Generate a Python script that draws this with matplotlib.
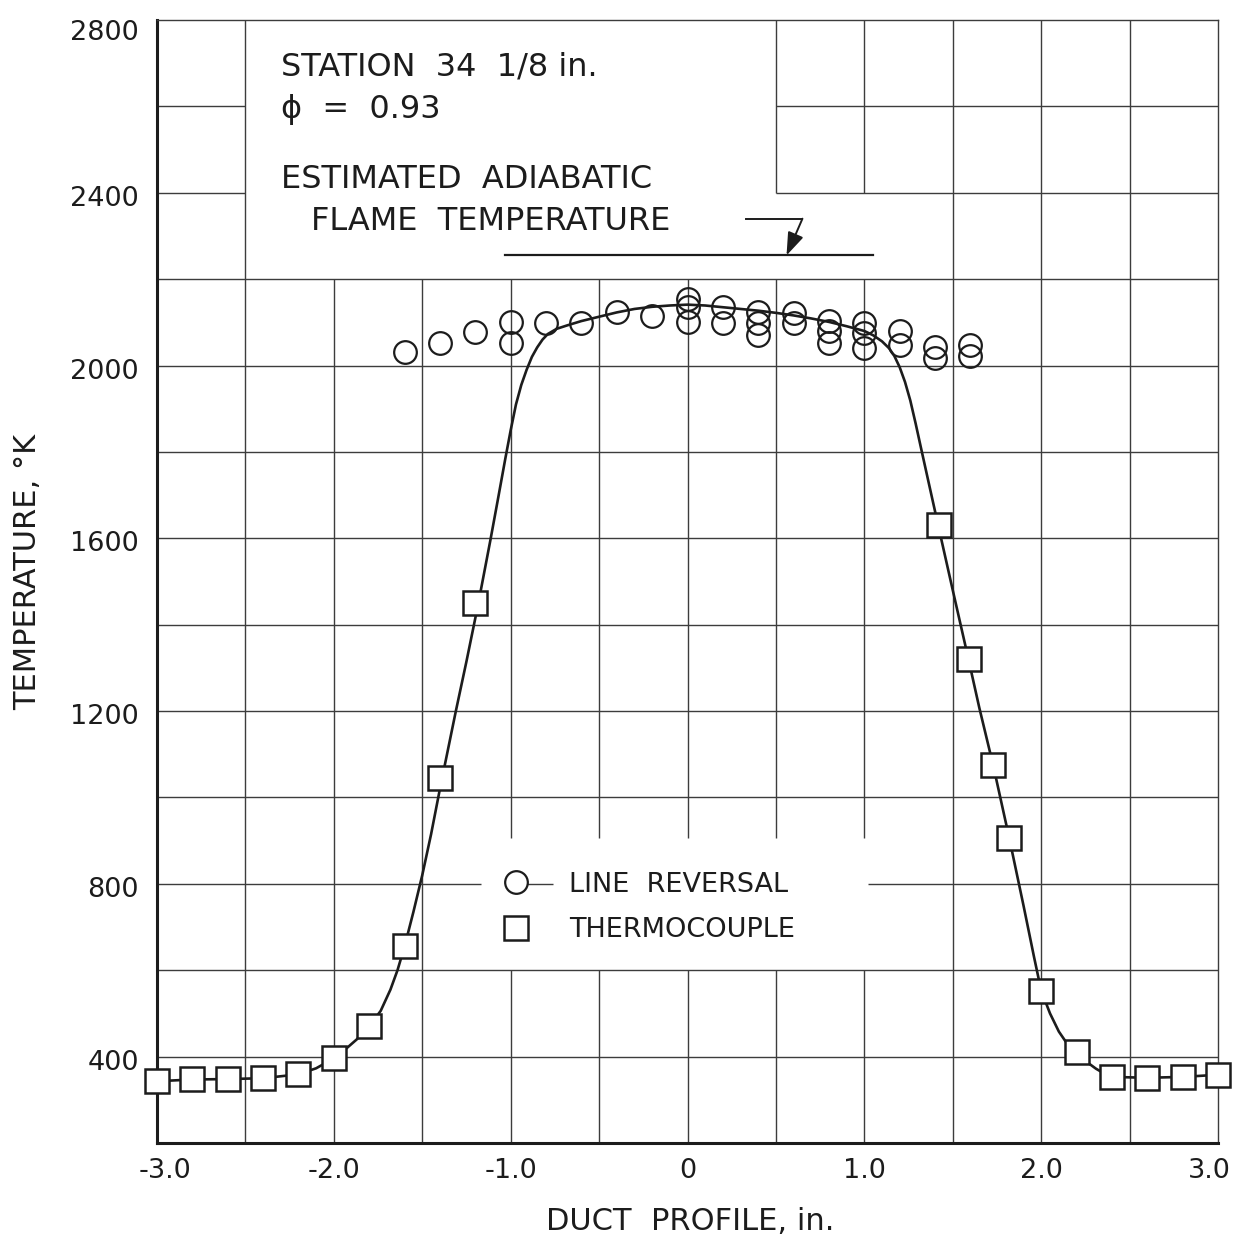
import matplotlib
matplotlib.use("Agg")
import matplotlib.pyplot as plt
from matplotlib.transforms import ScaledTranslation

# ---- data -------------------------------------------------------------
# Line-reversal temperatures (deg K) across the duct
lr_x = [-1.6, -1.4, -1.2, -1.0, -1.0, -0.8, -0.6, -0.4, -0.2,
        0.0, 0.0, 0.0, 0.2, 0.2, 0.4, 0.4, 0.4, 0.6, 0.6,
        0.8, 0.8, 0.8, 1.0, 1.0, 1.0, 1.2, 1.2, 1.4, 1.4, 1.6, 1.6]
lr_t = [2031, 2052, 2078, 2100, 2052, 2098, 2098, 2123, 2115,
        2155, 2135, 2100, 2136, 2098, 2125, 2098, 2071, 2121, 2098,
        2102, 2079, 2052, 2098, 2075, 2040, 2079, 2048, 2044, 2018, 2048, 2021]

# Thermocouple temperatures (deg K)
tc_x = [-3.0, -2.8, -2.6, -2.4, -2.2, -2.0, -1.8, -1.6, -1.4, -1.2,
        1.42, 1.59, 1.73, 1.82, 2.0, 2.2, 2.4, 2.6, 2.8, 3.0]
tc_t = [343, 348, 348, 350, 359, 396, 472, 655, 1045, 1450,
        1631, 1320, 1074, 906, 553, 410, 352, 351, 353, 358]

# Faired profile curve
fair_x = [-3.0, -2.8, -2.6, -2.4, -2.2, -2.1, -2.0, -1.94, -1.87, -1.8,
          -1.735, -1.68, -1.64, -1.6, -1.55, -1.5, -1.45, -1.4, -1.35, -1.31,
          -1.25, -1.21, -1.185, -1.15, -1.115, -1.07, -1.03, -1.0, -0.97, -0.94,
          -0.91, -0.88, -0.85, -0.82, -0.79, -0.74, -0.68, -0.6, -0.5, -0.4,
          -0.3, -0.2, -0.1, 0.0, 0.1, 0.2, 0.3, 0.4, 0.5, 0.6,
          0.7, 0.8, 0.9, 1.0, 1.05, 1.1, 1.14, 1.17, 1.2, 1.23,
          1.26, 1.29, 1.32, 1.36, 1.417, 1.5, 1.59, 1.65, 1.73, 1.82,
          1.9, 1.96, 2.0, 2.05, 2.1, 2.15, 2.2, 2.25, 2.31, 2.36,
          2.4, 2.6, 2.8, 3.0]
fair_t = [343, 347, 348, 350, 359, 373, 396, 415, 440, 470,
          506, 555, 600, 655, 735, 820, 915, 1020, 1120, 1200,
          1315, 1395, 1445, 1520, 1595, 1695, 1785, 1850, 1910, 1955,
          1990, 2020, 2042, 2060, 2073, 2085, 2093, 2103, 2113, 2123,
          2131, 2136, 2139, 2141, 2139, 2135, 2131, 2127, 2122, 2116,
          2109, 2101, 2091, 2080, 2070, 2056, 2040, 2022, 1996, 1962,
          1919, 1866, 1810, 1736, 1631, 1480, 1318, 1208, 1072, 905,
          750, 630, 553, 500, 458, 428, 408, 390, 372, 360,
          353, 351, 353, 358]

# Estimated adiabatic flame temperature
adiabatic_t = 2255
adiabatic_span = [-1.03, 1.05]

x_ticks = [-3.0, -2.0, -1.0, 0.0, 1.0, 2.0, 3.0]
x_labels = ["-3.0", "-2.0", "-1.0", "0", "1.0", "2.0", "3.0"]
y_ticks = [400, 800, 1200, 1600, 2000, 2400, 2800]
y_labels = ["400", "800", "1200", "1600", "2000", "2400", "2800"]

# ---- figure ------------------------------------------------------------
INK = "#1c1c1c"
GRID = "#3c3c3c"
plt.rcParams["font.family"] = "DejaVu Sans"

W, H = 1236, 1239
fig = plt.figure(figsize=(W / 100, H / 100), dpi=100)
ax = fig.add_axes([157 / W, 1 - 1143 / H, (1218 - 157) / W, (1143 - 20) / H])
ax.set_xlim(-3, 3)
ax.set_ylim(200, 2800)

# Grid drawn segment by segment so that the lettered areas stay blank
blank = [(-2.5, 0.5, 2200, 2800), (0.5, 1.5, 2200, 2400),
         (-1.17, 1.02, 600, 800), (-1.17, -0.91, 800, 905), (-0.76, 1.02, 800, 905)]


def inside(px, py):
    return any(x0 <= px <= x1 and y0 <= py <= y1 for x0, x1, y0, y1 in blank)


def visible_runs(lo, hi, cuts, hidden):
    pts = sorted(set([lo, hi] + [c for c in cuts if lo < c < hi]))
    runs = []
    for a, b in zip(pts[:-1], pts[1:]):
        if hidden(0.5 * (a + b)):
            continue
        if runs and abs(runs[-1][1] - a) < 1e-9:
            runs[-1][1] = b
        else:
            runs.append([a, b])
    return runs


eps = 1e-6
for gx in [-2.5, -2.0, -1.5, -1.0, -0.5, 0.0, 0.5, 1.0, 1.5, 2.0, 2.5]:
    cuts = [v for r in blank for v in r[2:]]
    for a, b in visible_runs(200, 2800, cuts,
                             lambda m: inside(gx - eps, m) and inside(gx + eps, m)):
        ax.plot([gx, gx], [a, b], color=GRID, lw=1.0, zorder=1, solid_capstyle="butt")
for gy in range(400, 2800, 200):
    cuts = [v for r in blank for v in r[:2]]
    for a, b in visible_runs(-3, 3, cuts,
                             lambda m: inside(m, gy - 0.01) and inside(m, gy + 0.01)):
        ax.plot([a, b], [gy, gy], color=GRID, lw=1.0, zorder=1, solid_capstyle="butt")

for side in ("top", "right"):
    ax.spines[side].set_linewidth(1.0)
    ax.spines[side].set_color(GRID)
for side in ("left", "bottom"):
    ax.spines[side].set_linewidth(2.2)
    ax.spines[side].set_color(INK)

ax.set_xticks(x_ticks)
ax.set_xticklabels(x_labels)
ax.set_yticks(y_ticks)
ax.set_yticklabels(y_labels)
ax.tick_params(axis="both", length=0, labelsize=19.5, colors=INK)
ax.tick_params(axis="x", pad=11)
ax.tick_params(axis="y", pad=13)


def nudge(label, dx_px, dy_px):
    label.set_transform(label.get_transform()
                        + ScaledTranslation(dx_px / 100, dy_px / 100, fig.dpi_scale_trans))


xl = ax.get_xticklabels()
nudge(xl[0], 8, 0)
nudge(xl[-1], -9, 0)
for lab in ax.get_yticklabels():
    nudge(lab, 0, -3)
nudge(ax.get_yticklabels()[-1], 0, -7)

# Profile curve and measurements
ax.plot(fair_x, fair_t, color=INK, lw=1.9, zorder=3, solid_joinstyle="round")
ax.plot(lr_x, lr_t, "o", ms=16.3, mfc="none", mec=INK, mew=1.6, zorder=4,
        clip_on=False, label="LINE  REVERSAL")
ax.plot(tc_x, tc_t, "s", ms=17.3, mfc="white", mec=INK, mew=1.8, zorder=4,
        clip_on=False, label="THERMOCOUPLE")

# Adiabatic flame temperature line with its pointer
ax.plot(adiabatic_span, [adiabatic_t, adiabatic_t], color=INK, lw=1.6, zorder=3)
ax.plot([0.33, 0.65], [2340, 2340], color=INK, lw=1.4, zorder=3)
ax.annotate("", xy=(0.56, adiabatic_t), xytext=(0.65, 2340),
            arrowprops=dict(arrowstyle="-|>,head_length=0.7,head_width=0.25",
                            mutation_scale=20, lw=1.4, color=INK,
                            shrinkA=0, shrinkB=0), zorder=3)

ax.text(-2.30, 2672, "STATION  34  1/8 in.", fontsize=23, color=INK, va="baseline")
ax.text(-2.30, 2573, "ϕ  =  0.93", fontsize=23, color=INK, va="baseline")
ax.text(-2.30, 2410, "ESTIMATED  ADIABATIC", fontsize=23, color=INK, va="baseline")
ax.text(-2.13, 2313, "FLAME  TEMPERATURE", fontsize=23, color=INK, va="baseline")

leg = ax.legend(loc="upper left", bbox_to_anchor=(-1.075, 828),
                bbox_transform=ax.transData, frameon=False, numpoints=1,
                borderpad=0, borderaxespad=0, handlelength=1.4,
                handletextpad=1.23, labelspacing=0.72, fontsize=19.5)
for t in leg.get_texts():
    t.set_color(INK)

fig.text(28 / W, 1 - 572 / H, "TEMPERATURE, °K", rotation=90, fontsize=22,
         color=INK, ha="center", va="center")
fig.text(690 / W, 1 - 1221 / H, "DUCT  PROFILE, in.", fontsize=22,
         color=INK, ha="center", va="center")

fig.savefig("out.png", dpi=100, facecolor="white")
